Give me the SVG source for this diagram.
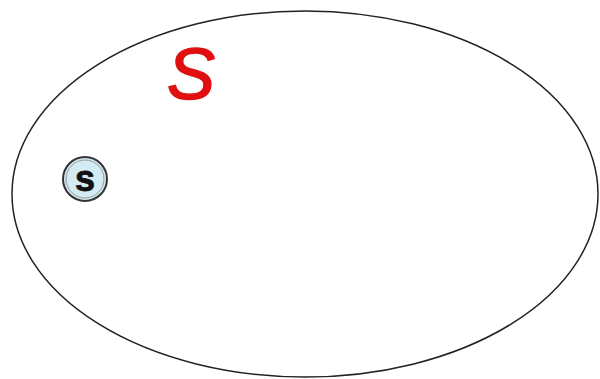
<svg xmlns="http://www.w3.org/2000/svg" width="600" height="379" viewBox="0 0 600 379">
<style>
.lbl{font-family:"Liberation Sans",Arial,sans-serif;}
</style>
<rect width="600" height="379" fill="#fff"/>
<g id="set">
<ellipse cx="305" cy="194" rx="293" ry="183" fill="none" stroke="#222" stroke-width="1.5"/>
<text class="lbl" x="191" y="99" font-size="72" font-style="italic" fill="#e01010" stroke="#e01010" stroke-width="1.5" text-anchor="middle">S</text>
</g>
<g id="node-s">
<circle cx="85" cy="179" r="22" fill="#d3ebf2" stroke="#333" stroke-width="2"/>
<circle cx="85" cy="179" r="19" fill="none" stroke="#999" stroke-width="1"/>
<text class="lbl" x="85" y="191" font-size="36" font-weight="bold" fill="#111" stroke="#111" stroke-width="0.8" text-anchor="middle">s</text>
</g>
</svg>
